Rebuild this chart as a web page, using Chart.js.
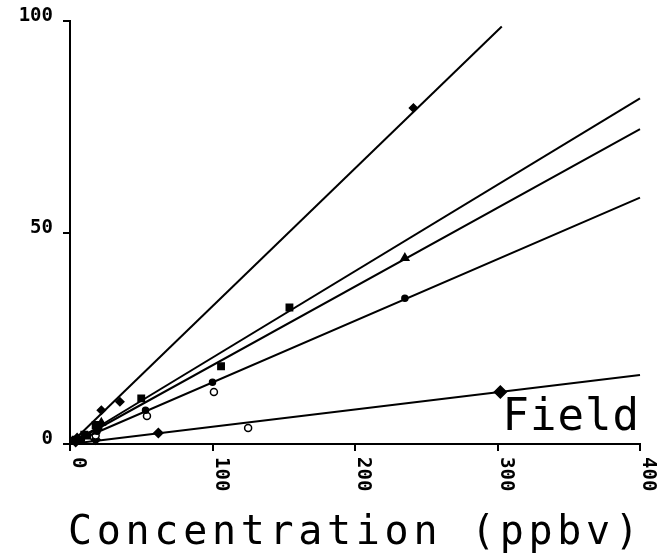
<!DOCTYPE html>
<html>
<head>
<meta charset="utf-8">
<script src="https://cdn.jsdelivr.net/npm/chart.js@4/dist/chart.umd.min.js"></script>
<style>
    html, body { margin: 0; padding: 0; background: #fff; }
    #wrap { width: 669px; height: 556px; }
</style>
</head>
<body>
<div id="wrap"><canvas id="calib"></canvas></div>
<script>
// axis texts
var xTitle = 'Concentration (ppbv)';
var fieldLabel = 'Field';
var xTickValues = [0, 100, 200, 300, 400];
var xTickLabels = ['0', '100', '200', '300', '400'];

// fitted lines (end points)
var lineAX = [0, 303];  var lineAY = [0, 98.8];
var lineBX = [0, 400];  var lineBY = [0, 81.8];
var lineCX = [0, 400];  var lineCY = [0, 74.5];
var lineDX = [0, 400];  var lineDY = [0, 58.3];
var lineEX = [0, 400];  var lineEY = [0, 16.3];

// measured points
var ptsAX = [5, 22, 35, 241];      var ptsAY = [1.5, 8, 10, 79.5];
var ptsBX = [3, 10, 18, 50, 154];  var ptsBY = [0.8, 2.2, 4.5, 10.8, 32.3];
var ptsCX = [4, 12, 20, 106];      var ptsCY = [1, 2, 4, 18.4];
var ptsC2X = [22, 235];            var ptsC2Y = [5, 44];
var ptsDX = [8, 19, 53, 100, 235]; var ptsDY = [1, 3, 8, 14.6, 34.5];
var openDX = [18, 54, 101];        var openDY = [2, 6.6, 12.3];
var ptsEX = [4, 18, 62];           var ptsEY = [0.5, 1, 2.6];
var bigEX = [302];                 var bigEY = [12.3];
var openEX = [125];                var openEY = [3.8];

function zip(xs, ys) {
    return xs.map(function(x, i) { return { x: x, y: ys[i] }; });
}

function lineSet(xs, ys) {
    return {
        data: zip(xs, ys),
        showLine: true,
        borderColor: '#000',
        borderWidth: 2,
        pointRadius: 0,
        clip: false
    };
}

function pointSet(xs, ys, style, radius, fill) {
    return {
        data: zip(xs, ys),
        showLine: false,
        pointStyle: style,
        pointRadius: radius,
        pointBackgroundColor: fill,
        pointBorderColor: '#000',
        pointBorderWidth: 1.5,
        clip: false
    };
}

// texts drawn like the plotter did: rotated tick labels, wide title
var plotterText = {
    id: 'plotterText',
    afterDraw: function(chart) {
        var ctx = chart.ctx;
        var xs = chart.scales.x;
        var area = chart.chartArea;
        ctx.save();
        ctx.fillStyle = '#000';
        ctx.font = 'bold 19px "DejaVu Sans Mono"';
        ctx.textBaseline = 'middle';
        ctx.textAlign = 'left';
        xTickValues.forEach(function(v, i) {
            var px = xs.getPixelForValue(v);
            ctx.save();
            ctx.translate(px + 8, area.bottom + 13);
            ctx.rotate(Math.PI / 2);
            ctx.fillText(xTickLabels[i], 0, 0);
            ctx.restore();
        });
        ctx.textBaseline = 'alphabetic';
        ctx.font = '40px "DejaVu Sans Mono"';
        ctx.letterSpacing = '4.7px';
        ctx.fillText(xTitle, area.left - 2, 544);
        ctx.font = '44px "DejaVu Sans Mono"';
        ctx.letterSpacing = '1px';
        ctx.textAlign = 'right';
        ctx.fillText(fieldLabel, area.right, area.bottom - 14);
        ctx.restore();
    }
};

var axisGrid = {
    drawOnChartArea: false,
    drawTicks: true,
    tickLength: 7,
    color: '#000',
    lineWidth: 2
};

document.addEventListener('DOMContentLoaded', function() {
    var ctx = document.getElementById('calib').getContext('2d');
    var chart = new Chart(ctx, {
        type: 'scatter',
        data: {
            datasets: [
                lineSet(lineAX, lineAY),
                lineSet(lineBX, lineBY),
                lineSet(lineCX, lineCY),
                lineSet(lineDX, lineDY),
                lineSet(lineEX, lineEY),
                pointSet(ptsAX, ptsAY, 'rectRot', 4, '#000'),
                pointSet(ptsBX, ptsBY, 'rect', 4.5, '#000'),
                pointSet(ptsCX, ptsCY, 'rect', 4.5, '#000'),
                pointSet(ptsC2X, ptsC2Y, 'triangle', 4.5, '#000'),
                pointSet(ptsDX, ptsDY, 'circle', 3, '#000'),
                pointSet(openDX, openDY, 'circle', 3.5, '#fff'),
                pointSet(ptsEX, ptsEY, 'rectRot', 4.5, '#000'),
                pointSet(bigEX, bigEY, 'rectRot', 6, '#000'),
                pointSet(openEX, openEY, 'circle', 3.5, '#fff')
            ]
        },
        options: {
            responsive: true,
            maintainAspectRatio: false,
            animation: false,
            layout: {
                padding: { top: 20, right: 29, left: 0, bottom: 0 }
            },
            plugins: {
                legend: { display: false },
                tooltip: { enabled: false }
            },
            scales: {
                x: {
                    type: 'linear',
                    min: 0,
                    max: 400,
                    ticks: { stepSize: 100, display: false },
                    grid: axisGrid,
                    border: { color: '#000', width: 2 },
                    afterFit: function(scale) { scale.height = 112; }
                },
                y: {
                    min: 0,
                    max: 100,
                    ticks: {
                        stepSize: 50,
                        color: '#000',
                        padding: 10,
                        labelOffset: -5,
                        font: { family: 'DejaVu Sans Mono', size: 19, weight: 'bold' }
                    },
                    grid: axisGrid,
                    border: { color: '#000', width: 2 },
                    afterFit: function(scale) { scale.width = 70; }
                }
            }
        },
        plugins: [plotterText]
    });
});
</script>
</body>
</html>
